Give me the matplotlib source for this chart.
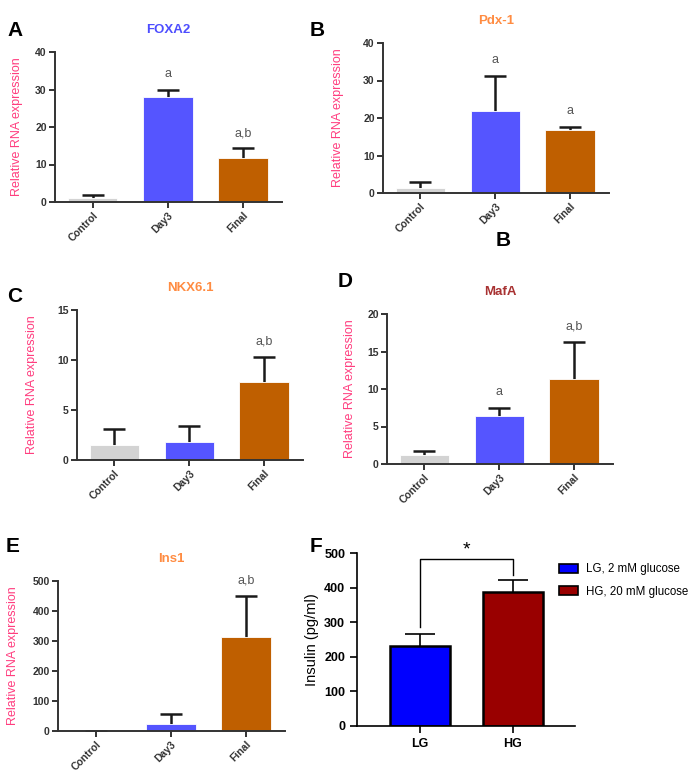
import numpy as np
import matplotlib
matplotlib.use('Agg')
import matplotlib.pyplot as plt
from matplotlib.patches import Patch

plt.rcParams['font.family'] = ['Liberation Sans', 'DejaVu Sans']

# groups and colours of the RNA panels
groups = ['Control', 'Day3', 'Final']
group_colors = ['#d3d3d3', '#5555ff', '#bf5f00']

# mean and upper error of each gene
foxa2_mean = [1.0, 28.0, 11.7]
foxa2_err = [0.8, 2.0, 2.6]
foxa2_sig = ['', 'a', 'a,b']

pdx1_mean = [1.3, 22.0, 16.8]
pdx1_err = [1.6, 9.3, 0.9]
pdx1_sig = ['', 'a', 'a']

nkx61_mean = [1.55, 1.8, 7.85]
nkx61_err = [1.55, 1.65, 2.45]
nkx61_sig = ['', '', 'a,b']

mafa_mean = [1.2, 6.4, 11.4]
mafa_err = [0.5, 1.1, 4.9]
mafa_sig = ['', 'a', 'a,b']

ins1_mean = [0.0, 22.0, 313.0]
ins1_err = [0.0, 35.0, 137.0]
ins1_sig = ['', '', 'a,b']

# insulin secretion panel
gsis_groups = ['LG', 'HG']
gsis_mean = [231.0, 386.0]
gsis_err = [34.0, 35.0]
gsis_colors = ['#0000ff', '#990000']
gsis_legend = ['LG, 2 mM glucose', 'HG, 20 mM glucose']

W, H = 700, 784
fig = plt.figure(figsize=(7, 7.84), dpi=100)


def px_axes(l, t, r, b):
    return fig.add_axes([l / W, 1 - b / H, (r - l) / W, (b - t) / H])


def fig_text(x, y, s, **kw):
    fig.text(x / W, 1 - y / H, s, **kw)


def upper_errorbar(ax, x, mean, err, color, lw, cap):
    # only the upper half of the error bar, as in GraphPad
    _, caps, _ = ax.errorbar(x, mean, yerr=[np.zeros(len(err)), err], fmt='none', ecolor=color,
                             elinewidth=lw, capsize=cap, capthick=lw, zorder=1)
    caps[0].set_visible(False)


def rna_panel(box, mean, err, sig, ymax, step, title, title_color, label_x):
    ax = px_axes(*box)
    x = np.arange(len(groups))
    ax.bar(x, mean, width=0.66, color=group_colors, edgecolor='white', linewidth=0.6, zorder=2)
    upper_errorbar(ax, x, mean, err, '#1a1a1a', 1.8, 8)
    for xi, m, e, s in zip(x, mean, err, sig):
        if s:
            ax.annotate(s, (xi, m + e), xytext=(0, 11), textcoords='offset points',
                        ha='center', va='center', fontsize=9, color='#555555')
    ax.set_xlim(-0.5, 2.52)
    ax.set_ylim(0, ymax)
    ax.set_yticks(np.arange(0, ymax + step / 2, step))
    ax.set_xticks(x)
    ax.set_xticklabels(groups, rotation=45, ha='right', rotation_mode='anchor',
                       fontsize=7.5, fontweight='bold', color='#333333')
    for lab in ax.get_yticklabels():
        lab.set_fontsize(7.5)
        lab.set_fontweight('bold')
        lab.set_color('#333333')
    for sp in ['top', 'right']:
        ax.spines[sp].set_visible(False)
    for sp in ['left', 'bottom']:
        ax.spines[sp].set_linewidth(1.4)
        ax.spines[sp].set_color('#333333')
    ax.tick_params(axis='both', width=1.4, length=4, color='#333333', pad=2)
    ax.set_title(title, color=title_color, fontsize=9.5, fontweight='bold', pad=14)
    ax.set_ylabel('Relative RNA expression', color='#ff3d7f', fontsize=9)
    # label_x is the centre of the label in pixels, the anchor is its right edge
    ax.yaxis.set_label_coords((label_x + 6 - box[0]) / (box[2] - box[0]), 0.5)
    return ax


ax_a = rna_panel((55, 52, 282, 202), foxa2_mean, foxa2_err, foxa2_sig, 40, 10,
                 'FOXA2', '#4d4dff', 17)
ax_b = rna_panel((383, 43, 609, 193), pdx1_mean, pdx1_err, pdx1_sig, 40, 10,
                 'Pdx-1', '#ff8c42', 338)
ax_c = rna_panel((77, 310, 303, 460), nkx61_mean, nkx61_err, nkx61_sig, 15, 5,
                 'NKX6.1', '#ff8c42', 32)
ax_d = rna_panel((387, 314, 613, 464), mafa_mean, mafa_err, mafa_sig, 20, 5,
                 'MafA', '#a83232', 350)
ax_e = rna_panel((58, 581, 285, 731), ins1_mean, ins1_err, ins1_sig, 500, 100,
                 'Ins1', '#ff8c42', 13)

# panel F
ax_f = px_axes(357, 553, 575, 726)
xf = np.arange(len(gsis_groups))
ax_f.bar(xf, gsis_mean, width=0.65, color=gsis_colors, edgecolor='black', linewidth=1.8, zorder=2)
upper_errorbar(ax_f, xf, gsis_mean, gsis_err, 'black', 1.2, 11)
top = 482
ax_f.plot([xf[0], xf[0], xf[1], xf[1]], [gsis_mean[0] + gsis_err[0] + 20, top, top,
          gsis_mean[1] + gsis_err[1] + 14], color='black', lw=1.0)
ax_f.text((xf[0] + xf[1]) / 2, top + 2, '*', ha='center', va='bottom', fontsize=14)
ax_f.set_xlim(-0.68, 1.67)
ax_f.set_ylim(0, 500)
ax_f.set_yticks(np.arange(0, 501, 100))
ax_f.set_xticks(xf)
ax_f.set_xticklabels(gsis_groups, fontsize=9, fontweight='bold')
for lab in ax_f.get_yticklabels():
    lab.set_fontsize(9)
    lab.set_fontweight('bold')
for sp in ['top', 'right']:
    ax_f.spines[sp].set_visible(False)
for sp in ['left', 'bottom']:
    ax_f.spines[sp].set_linewidth(1.2)
ax_f.tick_params(axis='both', width=1.2, length=5)
ax_f.set_ylabel('Insulin (pg/ml)', fontsize=10.5, labelpad=4)
handles = [Patch(facecolor=c, edgecolor='black', linewidth=1.2) for c in gsis_colors]
fig.legend(handles, gsis_legend, loc='upper left', bbox_to_anchor=(549 / W, 1 - 553 / H),
           frameon=False, fontsize=8.3, handlelength=1.6, handleheight=0.8,
           labelspacing=0.9, handletextpad=0.7)

# panel letters
for x, y, s in [(15, 30, 'A'), (317, 30, 'B'), (503, 240, 'B'), (15, 296, 'C'),
                (345, 282, 'D'), (13, 547, 'E'), (316, 547, 'F')]:
    fig_text(x, y, s, fontsize=15, fontweight='bold', ha='center', va='center')

fig.savefig('out.png', dpi=100)
